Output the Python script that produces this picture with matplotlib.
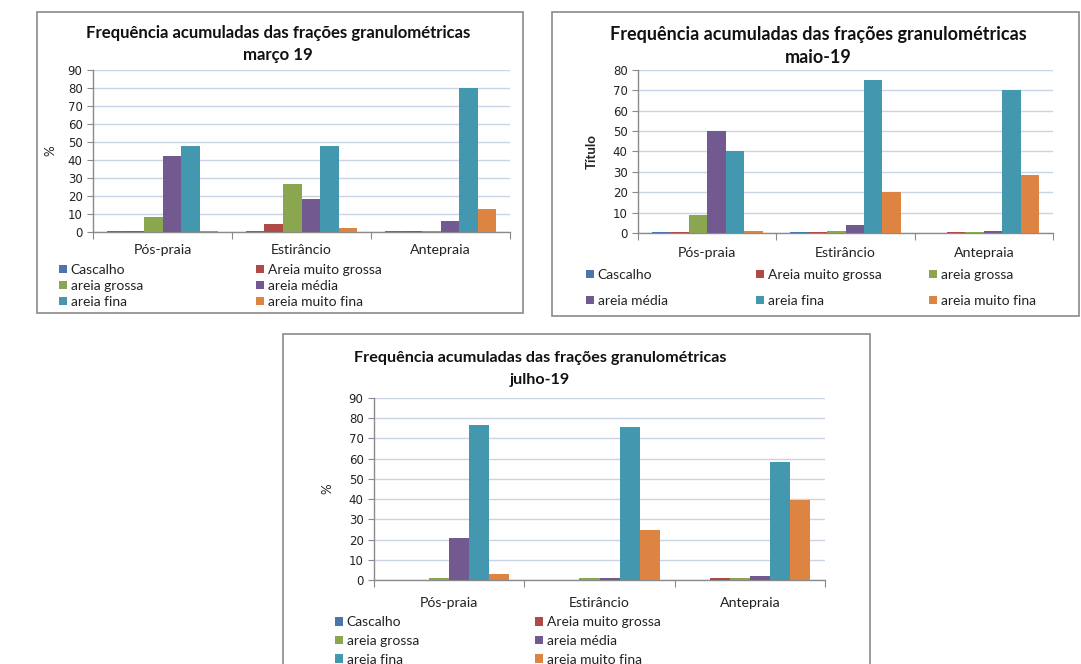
import matplotlib
matplotlib.use("Agg")
import matplotlib.pyplot as plt
from matplotlib.patches import Rectangle
import numpy as np

plt.rcParams['font.family'] = ['Lato', 'DejaVu Sans']

categories = ["Pós-praia", "Estirâncio", "Antepraia"]
series = ["Cascalho", "Areia muito grossa", "areia grossa", "areia média", "areia fina", "areia muito fina"]
colors = ["#4A76AC", "#B04A46", "#8AA64E", "#72598F", "#4398B0", "#DE8443"]

# values per series, per category (Pós-praia, Estirâncio, Antepraia)
marco_cascalho = [0.5, 0.5, 0.5]
marco_amg = [0.5, 4.5, 0.5]
marco_grossa = [8.5, 26.5, 0.5]
marco_media = [42, 18.5, 6]
marco_fina = [48, 48, 80]
marco_mfina = [0.5, 2, 13]

maio_cascalho = [0.5, 0.5, 0]
maio_amg = [0.5, 0.5, 0.5]
maio_grossa = [9, 1, 0.5]
maio_media = [50, 4, 1]
maio_fina = [40, 75, 70]
maio_mfina = [1, 20, 28.5]

julho_cascalho = [0, 0, 0]
julho_amg = [0, 0, 1]
julho_grossa = [0.8, 0.8, 0.8]
julho_media = [21, 0.8, 2]
julho_fina = [76.5, 75.5, 58.5]
julho_mfina = [2.8, 24.5, 39.5]

titles = ["Frequência acumuladas das frações granulométricas\nmarço 19",
          "Frequência acumuladas das frações granulométricas\nmaio-19",
          "Frequência acumuladas das frações granulométricas\njulho-19"]
ylabels = ["%", "Título", "%"]

W, H = 1081, 664
fig = plt.figure(figsize=(W / 100, H / 100), dpi=100)
fig.patch.set_facecolor("white")


def rect(l, t, r, b):
    return [l / W, 1 - b / H, (r - l) / W, (b - t) / H]


def fx(x):
    return x / W


def fy(y):
    return 1 - y / H


# panel frames
for (l, t, r, b) in [(37, 12, 523, 313), (552, 12, 1079, 316), (283, 334, 870, 700)]:
    fig.patches.append(Rectangle((fx(l), fy(b)), (r - l) / W, (b - t) / H,
                                 transform=fig.transFigure, fill=False,
                                 edgecolor="#8a8a8a", lw=1.2, zorder=0))

panels = [
    dict(data=[marco_cascalho, marco_amg, marco_grossa, marco_media, marco_fina, marco_mfina],
         ax=(93, 70, 510, 232), ymax=90, title_xy=(278, 44), title_fs=12.1, title_ls=1.5,
         ylabel_x=50, ylabel_bold=False, pad=9,
         leg_cols=[(61, [0, 2, 4]), (258, [1, 3, 5])], leg_y=286, leg_ls=0.29),
    dict(data=[maio_cascalho, maio_amg, maio_grossa, maio_media, maio_fina, maio_mfina],
         ax=(638, 70, 1053, 233), ymax=80, title_xy=(818, 46), title_fs=13.0, title_ls=1.4,
         ylabel_x=592, ylabel_bold=True, pad=10,
         leg_cols=[(588, [0, 3]), (758, [1, 4]), (931, [2, 5])], leg_y=288, leg_ls=1.01),
    dict(data=[julho_cascalho, julho_amg, julho_grossa, julho_media, julho_fina, julho_mfina],
         ax=(374, 398, 825, 580), ymax=90, title_xy=(540, 369), title_fs=11.6, title_ls=1.7,
         ylabel_x=327, ylabel_bold=False, pad=12,
         leg_cols=[(337, [0, 2, 4]), (537, [1, 3, 5])], leg_y=641, leg_ls=0.47),
]

x = np.arange(len(categories))
nser = len(series)
bw = 0.8 / nser

for i, p in enumerate(panels):
    ax = fig.add_axes(rect(*p["ax"]))
    handles = []
    for k in range(nser):
        h = ax.bar(x - 0.4 + bw * (k + 0.5), p["data"][k], width=bw, color=colors[k],
                   label=series[k], zorder=3)
        handles.append(h)
    ax.set_xlim(-0.5, 2.5)
    ax.set_ylim(0, p["ymax"])
    ax.set_yticks(np.arange(0, p["ymax"] + 1, 10))
    ax.yaxis.grid(True, color="#c9d3e6", lw=1.0, zorder=0)
    ax.set_axisbelow(True)
    for s in ["top", "right"]:
        ax.spines[s].set_visible(False)
    for s in ["left", "bottom"]:
        ax.spines[s].set_color("#8a8a8a")
        ax.spines[s].set_linewidth(1.0)
    ax.set_xticks([-0.5, 0.5, 1.5, 2.5])
    ax.set_xticklabels([])
    ax.set_xticks(x, minor=True)
    ax.set_xticklabels(categories, minor=True, fontsize=10.2, color="#222222")
    ax.tick_params(axis="x", which="minor", length=0, pad=p["pad"])
    ax.tick_params(axis="x", which="major", length=5, color="#8a8a8a")
    ax.tick_params(axis="y", length=4, color="#8a8a8a", labelsize=9.5, labelcolor="#222222")
    for lab in ax.get_yticklabels():
        lab.set_family("DejaVu Sans")
        lab.set_fontsize(8.5)

    fig.text(fx(p["ylabel_x"]), fy((p["ax"][1] + p["ax"][3]) / 2), ylabels[i],
             rotation=90, ha="center", va="center", fontsize=9.5,
             fontweight="bold" if p["ylabel_bold"] else "normal", color="#222222")

    fig.text(fx(p["title_xy"][0]), fy(p["title_xy"][1]), titles[i], ha="center", va="center",
             fontsize=p["title_fs"], fontweight="bold", linespacing=p["title_ls"], color="#111111")

    for (lx, idxs) in p["leg_cols"]:
        leg = fig.legend([handles[j] for j in idxs], [series[j] for j in idxs],
                         loc="center left", bbox_to_anchor=(fx(lx - 2), fy(p["leg_y"])),
                         bbox_transform=fig.transFigure, frameon=False, fontsize=10,
                         handlelength=0.55, handleheight=0.55, handletextpad=0.3,
                         labelspacing=p["leg_ls"], borderpad=0, borderaxespad=0)
        for t in leg.get_texts():
            t.set_color("#222222")

fig.savefig("out.png", dpi=100)
